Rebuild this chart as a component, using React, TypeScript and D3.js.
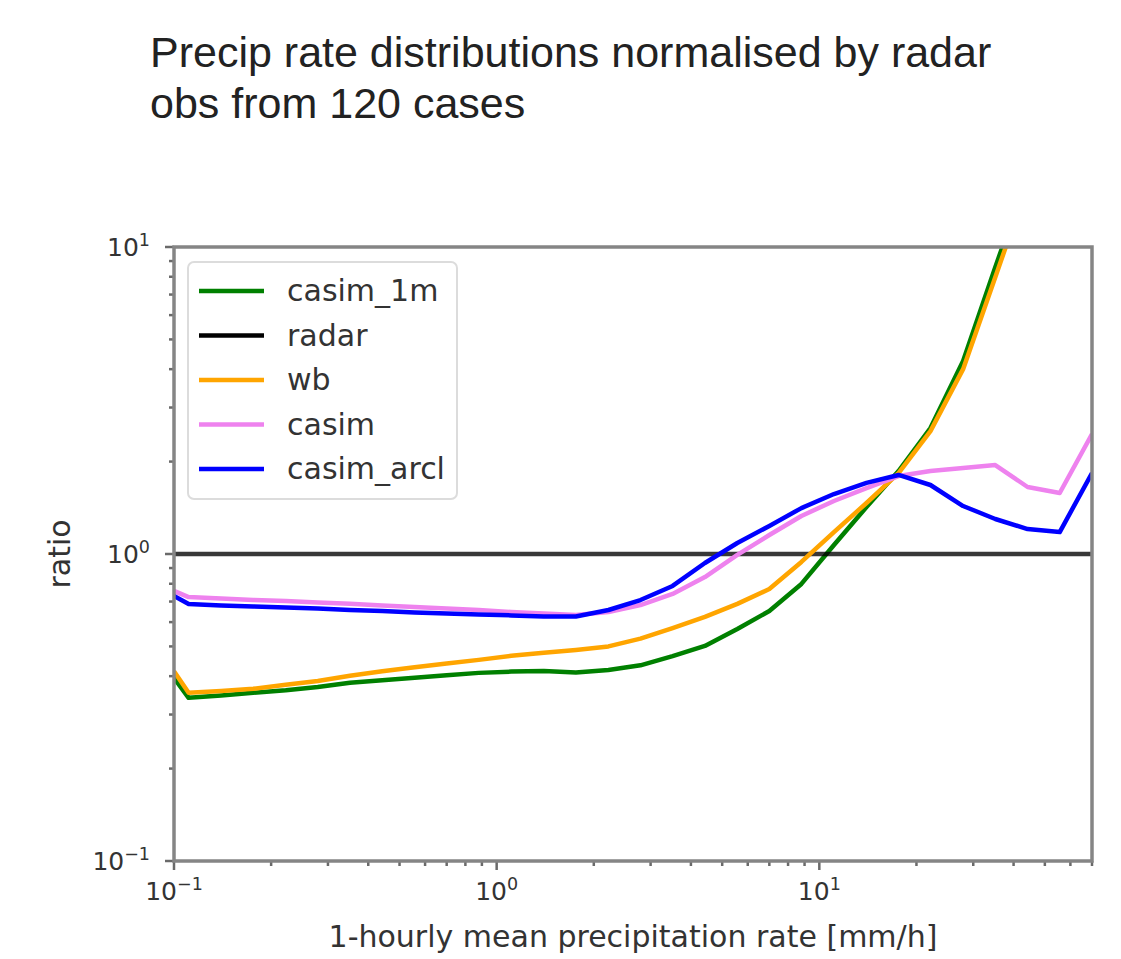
import React, { useEffect, useRef } from 'react';
import * as d3 from 'd3';

// bin centres of the 1-hourly precip rate [mm/h]
const rateBins = [0.1, 0.111, 0.14, 0.176, 0.222, 0.279, 0.351, 0.442, 0.557, 0.70,
    0.88, 1.11, 1.40, 1.76, 2.22, 2.79, 3.51, 4.42, 5.57, 7.0,
    8.8, 11.1, 14.0, 17.6, 22.1, 27.9, 35.1, 44.2, 55.6, 70];

const casim1m = [0.395, 0.340, 0.346, 0.353, 0.360, 0.369, 0.381, 0.388, 0.395, 0.403,
    0.410, 0.414, 0.416, 0.411, 0.419, 0.434, 0.465, 0.502, 0.570, 0.652,
    0.799, 1.070, 1.422, 1.864, 2.573, 4.25, 8.6, 17, 30, 50];

const wb = [0.415, 0.353, 0.358, 0.364, 0.375, 0.386, 0.401, 0.415, 0.428, 0.440,
    0.452, 0.466, 0.477, 0.487, 0.500, 0.530, 0.574, 0.624, 0.688, 0.769,
    0.942, 1.179, 1.466, 1.835, 2.514, 4.0, 7.97, 16, 30, 50];

const casim = [0.758, 0.724, 0.716, 0.708, 0.703, 0.695, 0.688, 0.680, 0.672, 0.665,
    0.657, 0.647, 0.640, 0.633, 0.647, 0.682, 0.741, 0.841, 0.993, 1.153,
    1.330, 1.488, 1.640, 1.794, 1.864, 1.906, 1.949, 1.653, 1.580, 2.459];

const casimArcl = [0.730, 0.687, 0.680, 0.675, 0.670, 0.665, 0.657, 0.652, 0.645, 0.640,
    0.635, 0.631, 0.626, 0.626, 0.657, 0.708, 0.787, 0.935, 1.086, 1.234,
    1.411, 1.568, 1.704, 1.809, 1.678, 1.433, 1.300, 1.206, 1.179, 1.835];

const radarX = [0.1, 70];
const radar = [1.0, 1.0];

const seriesNames = ['casim_1m', 'radar', 'wb', 'casim', 'casim_arcl'];
const seriesColors = ['#008000', '#000000', '#ffa500', '#ee82ee', '#0000ff'];

const xMajor = [0.1, 1, 10];
const yMajor = [0.1, 1, 10];
const majorExp = ['\u22121', '0', '1'];

const W = 1121;
const H = 959;
const left = 174, right = 1092, top = 247, bottom = 861;

const App = () => {
    const svgRef = useRef<SVGSVGElement>(null);

    useEffect(() => {
        const svg = d3.select(svgRef.current);
        svg.selectAll('*').remove();

        const x = d3.scaleLog().domain([0.1, 70]).range([left, right]);
        const y = d3.scaleLog().domain([0.1, 10]).range([bottom, top]);

        // title
        const title = svg.append('text')
            .attr('font-family', '"Liberation Sans", Arial, sans-serif')
            .attr('font-size', 43)
            .attr('fill', '#222');
        title.append('tspan').attr('x', 150).attr('y', 67)
            .text('Precip rate distributions normalised by radar');
        title.append('tspan').attr('x', 150).attr('y', 118)
            .text('obs from 120 cases');

        svg.append('clipPath').attr('id', 'plotclip')
            .append('rect')
            .attr('x', left).attr('y', top)
            .attr('width', right - left).attr('height', bottom - top);

        const data = [
            rateBins.map((r, i) => [r, casim1m[i]]),
            radarX.map((r, i) => [r, radar[i]]),
            rateBins.map((r, i) => [r, wb[i]]),
            rateBins.map((r, i) => [r, casim[i]]),
            rateBins.map((r, i) => [r, casimArcl[i]]),
        ];

        const line = d3.line<number[]>()
            .x((d) => x(d[0]))
            .y((d) => y(d[1]));

        const plot = svg.append('g').attr('clip-path', 'url(#plotclip)');
        data.forEach((pts, i) => {
            plot.append('path')
                .attr('d', line(pts))
                .attr('fill', 'none')
                .attr('stroke', seriesColors[i])
                .attr('stroke-width', 4.5)
                .attr('stroke-opacity', i === 1 ? 0.78 : 1)
                .attr('stroke-linejoin', 'round');
        });

        // ticks
        const tickColor = '#6a6a6a';
        const xMinor: number[] = [];
        [0.1, 1, 10].forEach((d) => {
            for (let k = 2; k <= 9; k++) {
                if (d * k <= 70) xMinor.push(d * k);
            }
        });
        const yMinor: number[] = [];
        [0.1, 1].forEach((d) => {
            for (let k = 2; k <= 9; k++) yMinor.push(d * k);
        });

        const axes = svg.append('g');
        xMinor.forEach((v) => {
            axes.append('line').attr('x1', x(v)).attr('x2', x(v))
                .attr('y1', bottom).attr('y2', bottom + 5)
                .attr('stroke', tickColor).attr('stroke-width', 2.5);
        });
        xMajor.forEach((v) => {
            axes.append('line').attr('x1', x(v)).attr('x2', x(v))
                .attr('y1', bottom).attr('y2', bottom + 9)
                .attr('stroke', tickColor).attr('stroke-width', 2.5);
        });
        yMinor.forEach((v) => {
            axes.append('line').attr('x1', left - 5).attr('x2', left)
                .attr('y1', y(v)).attr('y2', y(v))
                .attr('stroke', tickColor).attr('stroke-width', 2.5);
        });
        yMajor.forEach((v) => {
            axes.append('line').attr('x1', left - 9).attr('x2', left)
                .attr('y1', y(v)).attr('y2', y(v))
                .attr('stroke', tickColor).attr('stroke-width', 2.5);
        });

        // frame
        svg.append('rect')
            .attr('x', left).attr('y', top)
            .attr('width', right - left).attr('height', bottom - top)
            .attr('fill', 'none')
            .attr('stroke', '#858585')
            .attr('stroke-width', 3.5);

        const font = '"DejaVu Sans", sans-serif';
        const labelColor = '#333';

        xMajor.forEach((v, i) => {
            const t = svg.append('text')
                .attr('x', x(v)).attr('y', 900)
                .attr('text-anchor', 'middle')
                .attr('font-family', font).attr('font-size', 25)
                .attr('fill', labelColor);
            t.append('tspan').text('10');
            t.append('tspan').attr('dy', -10).attr('font-size', 17.5).text(majorExp[i]);
        });
        yMajor.forEach((v, i) => {
            const t = svg.append('text')
                .attr('x', 150).attr('y', y(v) + 9)
                .attr('text-anchor', 'end')
                .attr('font-family', font).attr('font-size', 25)
                .attr('fill', labelColor);
            t.append('tspan').text('10');
            t.append('tspan').attr('dy', -10).attr('font-size', 17.5).text(majorExp[i]);
        });

        svg.append('text')
            .attr('x', (left + right) / 2).attr('y', 947)
            .attr('text-anchor', 'middle')
            .attr('font-family', font).attr('font-size', 30)
            .attr('fill', labelColor)
            .text('1-hourly mean precipitation rate [mm/h]');

        svg.append('text')
            .attr('transform', `translate(70,${y(1)}) rotate(-90)`)
            .attr('text-anchor', 'middle')
            .attr('font-family', font).attr('font-size', 30)
            .attr('fill', labelColor)
            .text('ratio');

        // legend
        const lg = svg.append('g');
        lg.append('rect')
            .attr('x', 188).attr('y', 262)
            .attr('width', 269).attr('height', 237)
            .attr('rx', 6)
            .attr('fill', 'white').attr('fill-opacity', 0.85)
            .attr('stroke', '#dcdcdc').attr('stroke-width', 2);
        seriesNames.forEach((name, i) => {
            const ly = 291 + i * 44.5;
            lg.append('line')
                .attr('x1', 199).attr('x2', 264)
                .attr('y1', ly).attr('y2', ly)
                .attr('stroke', seriesColors[i]).attr('stroke-width', 4.5);
            lg.append('text')
                .attr('x', 287).attr('y', ly + 10)
                .attr('font-family', font).attr('font-size', 30)
                .attr('fill', labelColor)
                .text(name);
        });
    }, []);

    return (
        <svg ref={svgRef} width={W} height={H}
            style={{ position: 'absolute', left: 0, top: 0, background: 'white' }} />
    );
};

export default App;
